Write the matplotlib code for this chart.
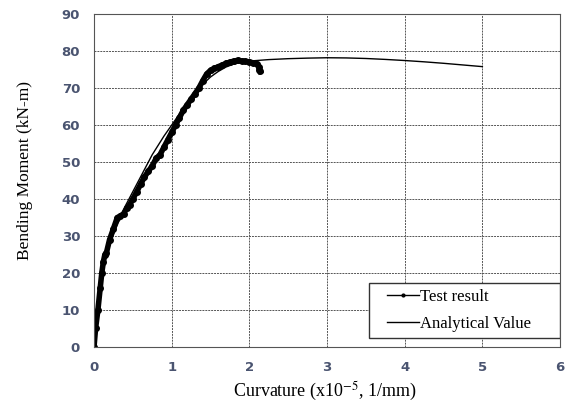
import numpy as np
import matplotlib.pyplot as plt
from matplotlib.patches import Rectangle

plt.rcParams['mathtext.fontset'] = 'stix'

# test result (curvature x1e-5 1/mm, moment kN-m)
test_x = [0, 0.02, 0.05, 0.08, 0.1, 0.12, 0.14, 0.16, 0.2, 0.25, 0.3, 0.33, 0.38, 0.42,
          0.46, 0.5, 0.55, 0.6, 0.65, 0.7, 0.75, 0.8, 0.85, 0.9, 0.95, 1.0, 1.05, 1.1,
          1.15, 1.2, 1.25, 1.3, 1.35, 1.4, 1.45, 1.5, 1.55, 1.6, 1.65, 1.7, 1.75, 1.8,
          1.85, 1.9, 1.95, 2.0, 2.05, 2.1, 2.12, 2.13, 2.14]
test_y = [0, 5, 10, 16, 20, 23, 25, 25.5, 29, 32, 35, 35.3, 36, 37.5,
          38.5, 40, 42, 44, 46, 47.5, 49, 51, 52, 54, 56, 58, 60, 62,
          64, 65.5, 67, 68.5, 70, 72, 73.8, 74.8, 75.3, 75.8, 76.2, 76.7, 77, 77.3,
          77.5, 77.3, 77.2, 77.1, 76.8, 76.5, 75.8, 75, 74.5]

# analytical value
ana_x = [0, 0.1, 0.2, 0.3, 0.4, 0.5, 0.6, 0.75, 0.9, 1.0, 1.1, 1.2, 1.3, 1.4, 1.5, 1.6,
         1.7, 1.8, 1.9, 2.0, 2.25, 2.5, 2.75, 3.0, 3.25, 3.5, 3.75, 4.0, 4.25, 4.5, 4.75, 5.0]
ana_y = [0, 20, 28, 33, 38, 42, 46, 52, 57, 60, 63, 66, 68.7, 71, 73, 74.5,
         75.7, 76.5, 77, 77.3, 77.7, 77.95, 78.1, 78.2, 78.15, 78.0, 77.75, 77.45, 77.1, 76.7, 76.25, 75.8]

fig = plt.figure(figsize=(5.75, 4.03), dpi=100)
ax = fig.add_axes([0.1635, 0.139, 0.8105, 0.826])

ax.plot(test_x, test_y, color='black', lw=4, marker='o', ms=4, label='Test result')
ax.plot(ana_x, ana_y, color='black', lw=1, label='Analytical Value')

ax.set_xlim(0, 6)
ax.set_ylim(0, 90)
ax.set_xticks(range(0, 7))
ax.set_yticks(range(0, 91, 10))
ax.grid(True, color='#555555', ls=(0, (2, 1)), lw=0.7)
ax.tick_params(length=0, pad=10, labelsize=9.5, labelcolor='#4a5470')
for lbl in ax.get_xticklabels() + ax.get_yticklabels():
    lbl.set_fontweight('bold')
for s in ax.spines.values():
    s.set_color('#555555')

ax.set_xlabel('Curvature (x10$^{-5}$, 1/mm)', family='Liberation Serif', fontsize=13)
ax.set_ylabel('Bending Moment (kN-m)', family='Liberation Serif', fontsize=12.5)
ax.xaxis.set_label_coords(0.496, -0.100)
ax.yaxis.set_label_coords(-0.131, 0.53)

# legend box drawn separately so it can be wider than its contents
ax.add_patch(Rectangle((0.59, 0.027), 0.41, 0.166, transform=ax.transAxes,
                       facecolor='white', edgecolor='#333333', lw=1, zorder=4))
leg = ax.legend(loc='center left', prop={'family': 'Liberation Serif', 'size': 12},
                frameon=False, handlelength=1.9, handletextpad=0.05,
                borderpad=0, labelspacing=0.7, markerscale=0.5, borderaxespad=0,
                bbox_to_anchor=(0.629, 0.11))
leg.set_zorder(5)
for h in leg.legend_handles:
    h.set_linewidth(1)

fig.savefig('out.png')
